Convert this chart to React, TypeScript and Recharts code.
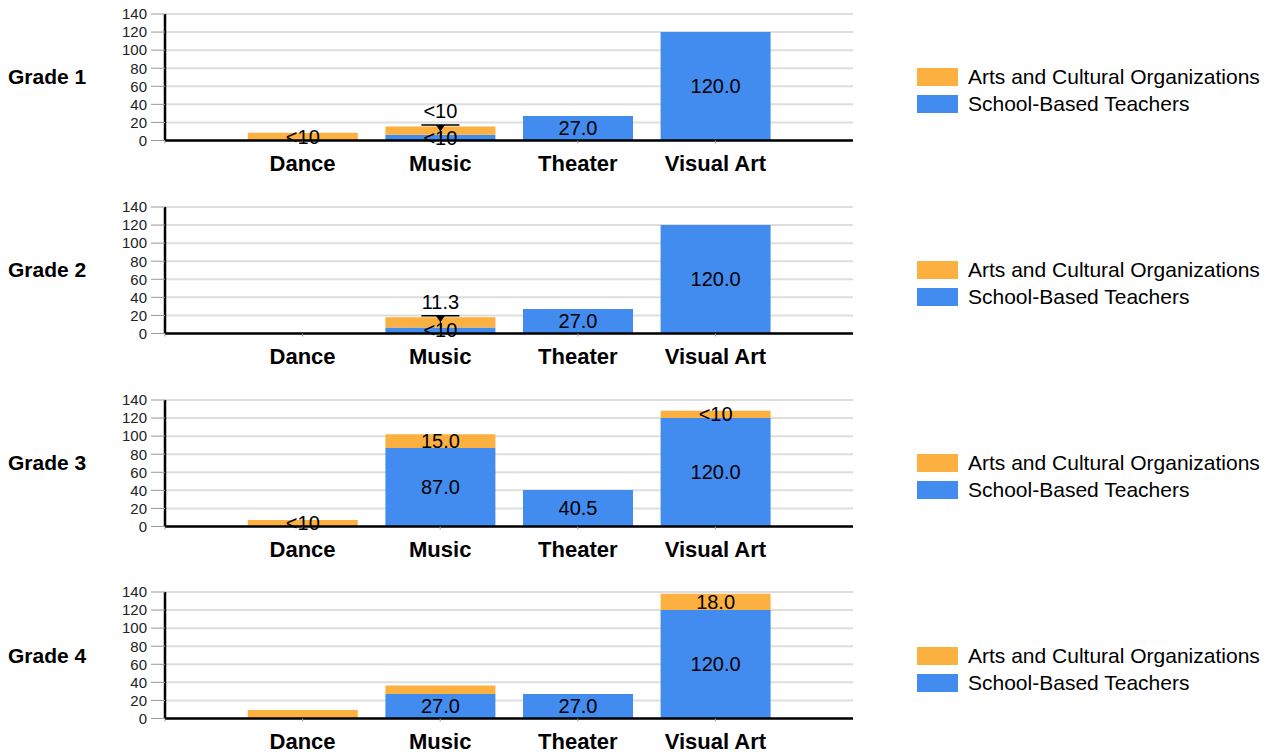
import React from "react";
import {
  BarChart,
  Bar,
  XAxis,
  YAxis,
  CartesianGrid,
  LabelList,
} from "recharts";

const FONT = "Arial, 'Liberation Sans', sans-serif";
const ORANGE = "#fbb040";
const BLUE = "#428bef";

const grades = ["Grade 1", "Grade 2", "Grade 3", "Grade 4"];
const categories = ["Dance", "Music", "Theater", "Visual Art"];
const yTicks = [0, 20, 40, 60, 80, 100, 120, 140];
const seriesNames = ["Arts and Cultural Organizations", "School-Based Teachers"];

// School-Based Teachers (blue, bottom of stack)
const teachersG1 = [null, 6.5, 27, 120];
const teachersG2 = [null, 6.7, 27, 120];
const teachersG3 = [null, 87, 40.5, 120];
const teachersG4 = [null, 27, 27, 120];

// Arts and Cultural Organizations (orange, top of stack)
const orgsG1 = [8.5, 9, null, null];
const orgsG2 = [null, 11.3, null, null];
const orgsG3 = [7.2, 15, null, 8];
const orgsG4 = [9.3, 9.5, null, 18];

// labels printed on the bars
const teacherLabelsG1 = ["", "<10", "27.0", "120.0"];
const teacherLabelsG2 = ["", "<10", "27.0", "120.0"];
const teacherLabelsG3 = ["", "87.0", "40.5", "120.0"];
const teacherLabelsG4 = ["", "27.0", "27.0", "120.0"];

const orgLabelsG1 = ["<10", "", "", ""];
const orgLabelsG2 = ["", "", "", ""];
const orgLabelsG3 = ["<10", "15.0", "", "<10"];
const orgLabelsG4 = ["", "", "", "18.0"];

// labels drawn above the bar with a pointer
const orgCalloutsG1 = ["", "<10", "", ""];
const orgCalloutsG2 = ["", "11.3", "", ""];
const orgCalloutsG3 = ["", "", "", ""];
const orgCalloutsG4 = ["", "", "", ""];

const panels = [
  { teachers: teachersG1, orgs: orgsG1, tl: teacherLabelsG1, ol: orgLabelsG1, oc: orgCalloutsG1 },
  { teachers: teachersG2, orgs: orgsG2, tl: teacherLabelsG2, ol: orgLabelsG2, oc: orgCalloutsG2 },
  { teachers: teachersG3, orgs: orgsG3, tl: teacherLabelsG3, ol: orgLabelsG3, oc: orgCalloutsG3 },
  { teachers: teachersG4, orgs: orgsG4, tl: teacherLabelsG4, ol: orgLabelsG4, oc: orgCalloutsG4 },
];

const PANEL_STEP = 192.8;
const FIRST_PLOT_TOP = 14;
const CHART_W = 880;
const CHART_H = 192;
const MARGIN_TOP = 10;
const PLOT_H = 126.5;

function box(props: any) {
  const vb = props.viewBox || {};
  const x = Number(props.x ?? vb.x);
  const y = Number(props.y ?? vb.y);
  const width = Number(props.width ?? vb.width);
  const height = Number(props.height ?? vb.height);
  return { x, y, width, height };
}

function InsideLabel(props: any) {
  const { value } = props;
  if (!value) return null;
  const { x, y, width, height } = box(props);
  return (
    <text
      x={x + width / 2}
      y={y + height / 2}
      textAnchor="middle"
      dominantBaseline="central"
      style={{ fontSize: 20, fontFamily: FONT, fill: "#000" }}
    >
      {value}
    </text>
  );
}

function CalloutLabel(props: any) {
  const { value } = props;
  if (!value) return null;
  const { x, y, width } = box(props);
  const cx = x + width / 2;
  const lineY = y - 1.5;
  return (
    <g>
      <text
        x={cx}
        y={lineY - 14}
        textAnchor="middle"
        dominantBaseline="central"
        style={{ fontSize: 20, fontFamily: FONT, fill: "#000" }}
      >
        {value}
      </text>
      <line x1={cx - 19} x2={cx + 19} y1={lineY} y2={lineY} stroke="#000" strokeWidth={1.5} />
      <line x1={cx} x2={cx} y1={lineY} y2={y + 12} stroke="#000" strokeWidth={1} />
      <path d={`M${cx - 4.5},${lineY} L${cx + 4.5},${lineY} L${cx},${lineY + 6.5} Z`} fill="#000" />
    </g>
  );
}

function Panel({ index }: { index: number }) {
  const p = panels[index];
  const data = categories.map((name, i) => ({
    pos: i + 1,
    name,
    teachers: p.teachers[i],
    orgs: p.orgs[i],
    teacherLabel: p.tl[i],
    orgLabel: p.ol[i],
    orgCallout: p.oc[i],
  }));
  const plotTop = FIRST_PLOT_TOP + index * PANEL_STEP;
  const xAxisH = CHART_H - MARGIN_TOP - PLOT_H;

  return (
    <>
      <div
        style={{
          position: "absolute",
          left: 8,
          top: plotTop + PLOT_H / 2 - 12,
          height: 24,
          lineHeight: "24px",
          fontFamily: FONT,
          fontWeight: 700,
          fontSize: 21,
          color: "#000",
        }}
      >
        {grades[index]}
      </div>
      <div style={{ position: "absolute", left: 0, top: plotTop - MARGIN_TOP }}>
        <BarChart
          width={CHART_W}
          height={CHART_H}
          data={data}
          margin={{ top: MARGIN_TOP, right: CHART_W - 853, left: 125, bottom: 0 }}
        >
          <CartesianGrid vertical={false} stroke="#dedede" strokeWidth={2} />
          <XAxis
            type="number"
            dataKey="pos"
            domain={[0, 5]}
            ticks={[0, 1, 2, 3, 4]}
            interval={0}
            height={xAxisH}
            tickFormatter={(v: number) => categories[v - 1] ?? ""}
            axisLine={{ stroke: "#000", strokeWidth: 2.5 }}
            tickLine={{ stroke: "#999" }}
            tickSize={3}
            tickMargin={12}
            tick={{ fontSize: 22, fontWeight: 700, fill: "#000", fontFamily: FONT }}
          />
          <YAxis
            width={40}
            domain={[0, 140]}
            ticks={yTicks}
            interval={0}
            axisLine={{ stroke: "#000", strokeWidth: 2.5 }}
            tickLine={{ stroke: "#999" }}
            tickSize={14}
            tickMargin={4}
            tick={{ fontSize: 15, fill: "#222", fontFamily: FONT }}
          />
          <Bar dataKey="teachers" stackId="a" fill={BLUE} barSize={110} isAnimationActive={false}>
            <LabelList dataKey="teacherLabel" content={InsideLabel} />
          </Bar>
          <Bar dataKey="orgs" stackId="a" fill={ORANGE} barSize={110} isAnimationActive={false}>
            <LabelList dataKey="orgLabel" content={InsideLabel} />
            <LabelList dataKey="orgCallout" content={CalloutLabel} />
          </Bar>
        </BarChart>
      </div>
      <div
        style={{
          position: "absolute",
          left: 917,
          top: plotTop + PLOT_H / 2 - 13.5,
          fontFamily: FONT,
          fontSize: 21,
          color: "#000",
        }}
      >
        {seriesNames.map((s, i) => (
          <div key={s} style={{ display: "flex", alignItems: "center", height: 27 }}>
            <span
              style={{
                display: "inline-block",
                width: 41,
                height: 18,
                background: i === 0 ? ORANGE : BLUE,
                marginRight: 10,
              }}
            />
            <span>{s}</span>
          </div>
        ))}
      </div>
    </>
  );
}

export default function App() {
  return (
    <div style={{ position: "relative", width: 1268, height: 752, background: "#fff" }}>
      <style>{`body{margin:0;background:#fff}`}</style>
      {grades.map((g, i) => (
        <Panel key={g} index={i} />
      ))}
    </div>
  );
}
